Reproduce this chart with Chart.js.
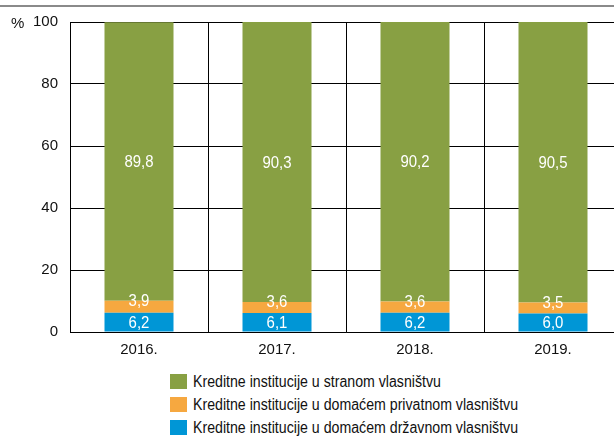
<!DOCTYPE html>
<html>
<head>
<meta charset="utf-8">
<script src="https://cdn.jsdelivr.net/npm/chart.js@4/dist/chart.umd.min.js"></script>
<style>
  html, body { margin: 0; padding: 0; background: #fff; }
  body { width: 614px; height: 436px; overflow: hidden; position: relative;
         font-family: 'Liberation Sans', Arial, sans-serif; }
  #topRule { position: absolute; left: 0; top: 5px; width: 614px; height: 2px; background: #8a8a8a; }
  #wrap { position: absolute; left: 0; top: 0; width: 622px; height: 362px; }
  #unit { position: absolute; left: 11px; top: 14px; font-size: 15px; color: #111; }
  #legend { position: absolute; left: 170px; top: 370px; }
  .item { display: flex; align-items: center; height: 23px; font-size: 16px; color: #111; }
  .box { width: 17px; height: 15px; margin-right: 6px; flex: none; }
  .txt { display: inline-block; transform: scaleX(0.885); transform-origin: left center; white-space: nowrap; }
</style>
</head>
<body>
<div id="topRule"></div>
<div id="wrap"><canvas id="chart"></canvas></div>
<div id="unit">%</div>
<div id="legend"></div>
<script>
  // Godine i udjeli (u %) po vrsti vlasništva
  const godine = ['2016.', '2017.', '2018.', '2019.'];
  const drzavno = [6.2, 6.1, 6.2, 6.0];
  const domacePrivatno = [3.9, 3.6, 3.6, 3.5];
  const strano = [89.8, 90.3, 90.2, 90.5];
  const yTicks = [0, 20, 40, 60, 80, 100];

  const fontFamily = "'Liberation Sans', Arial, sans-serif";

  const serije = [
    { label: 'Kreditne institucije u domaćem državnom vlasništvu', data: drzavno, color: '#0096d6' },
    { label: 'Kreditne institucije u domaćem privatnom vlasništvu', data: domacePrivatno, color: '#f6a840' },
    { label: 'Kreditne institucije u stranom vlasništvu', data: strano, color: '#88a043' }
  ];

  // Bijele oznake vrijednosti unutar segmenata (malo sužen font)
  const valueLabels = {
    id: 'valueLabels',
    afterDatasetsDraw(chart) {
      const ctx = chart.ctx;
      chart.data.datasets.forEach((ds, i) => {
        chart.getDatasetMeta(i).data.forEach((bar, j) => {
          const p = bar.getProps(['x', 'y', 'base'], true);
          let y = (p.y + p.base) / 2;
          if (i === 1) y -= 6;
          ctx.save();
          ctx.translate(p.x, y);
          ctx.scale(0.88, 1);
          ctx.fillStyle = '#fff';
          ctx.font = '17px ' + fontFamily;
          ctx.textAlign = 'center';
          ctx.textBaseline = 'middle';
          ctx.fillText(ds.data[j].toFixed(1).replace('.', ','), 0, 1);
          ctx.restore();
        });
      });
    }
  };

  const chart = new Chart(document.getElementById('chart'), {
    type: 'bar',
    data: {
      labels: godine,
      datasets: serije.map(s => ({
        label: s.label,
        data: s.data,
        backgroundColor: s.color,
        borderWidth: 0,
        categoryPercentage: 1,
        barPercentage: 0.5
      }))
    },
    options: {
      responsive: true,
      maintainAspectRatio: false,
      animation: false,
      layout: { padding: { top: 22, right: 0, left: 0, bottom: 0 } },
      plugins: { legend: { display: false }, tooltip: { enabled: false } },
      scales: {
        x: {
          stacked: true,
          grid: { color: '#000', lineWidth: 1, offset: true, drawTicks: false },
          border: { color: '#000', width: 1 },
          ticks: { color: '#111', font: { family: fontFamily, size: 15 }, padding: 9 },
          afterFit: s => { s.height = 30; }
        },
        y: {
          stacked: true,
          min: 0,
          max: 100,
          afterBuildTicks: s => { s.ticks = yTicks.map(v => ({ value: v })); },
          grid: { color: '#000', lineWidth: 1, drawTicks: false },
          border: { color: '#000', width: 1 },
          ticks: { color: '#111', font: { family: fontFamily, size: 15 }, padding: 12 },
          afterFit: s => { s.width = 70; }
        }
      }
    },
    plugins: [valueLabels]
  });

  // Legenda: redoslijed od vrha stupca prema dnu
  const legend = document.getElementById('legend');
  chart.data.datasets.slice().reverse().forEach(ds => {
    const row = document.createElement('div');
    row.className = 'item';
    row.innerHTML = '<span class="box" style="background:' + ds.backgroundColor + '"></span>' +
                    '<span class="txt">' + ds.label + '</span>';
    legend.appendChild(row);
  });
</script>
</body>
</html>
